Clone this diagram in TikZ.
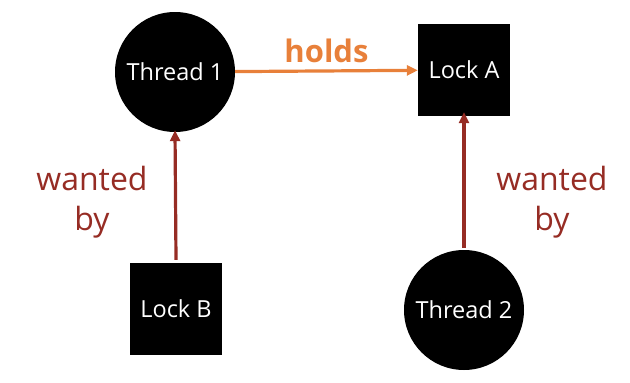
\documentclass[tikz,border=0pt]{standalone}
\usepackage{fontspec}
\setmainfont{Open Sans}
\usetikzlibrary{arrows.meta}
\definecolor{holdorange}{HTML}{E8803A}
\definecolor{wantred}{HTML}{962C24}
\begin{document}
\begin{tikzpicture}[x=1pt,y=-1pt,font=\fontsize{23.5}{28}\selectfont,
  thread/.style={circle,fill=black,text=white,minimum size=120pt,inner sep=0pt},
  lock/.style={rectangle,fill=black,text=white,minimum size=92pt,inner sep=0pt},
  link/.style={line width=3.2pt,-{Triangle[length=11pt,width=10pt]}},
  tag/.style={align=center,font=\fontsize{32}{40}\selectfont}]
\useasboundingbox (0,0) rectangle (630,383);
\node[thread] (t1) at (175,72) {Thread 1};
\node[lock] (la) at (464,70) {Lock A};
\node[lock] (lb) at (176,309) {Lock B};
\node[thread] (t2) at (464,310) {Thread 2};
\draw[link,holdorange] (t1) -- node[above=3pt,font=\bfseries\fontsize{31}{36}\selectfont] (h) {holds} (la);
\draw[link,wantred] (lb.north) ++(0,-3) -- ([yshift=2pt]t1.south);
\draw[link,wantred] (t2.north) ++(0,-2) -- ([yshift=4pt]la.south);
\node[tag,text=wantred] (w1) at (92,202) {wanted\\by};
\node[tag,text=wantred] (w2) at (552,202) {wanted\\by};
\end{tikzpicture}
\end{document}
